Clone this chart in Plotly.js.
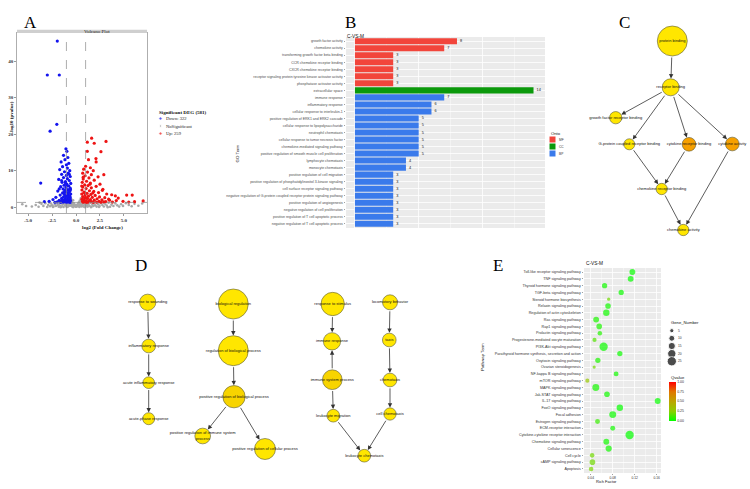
<!DOCTYPE html>
<html><head><meta charset="utf-8">
<script src="https://cdn.plot.ly/plotly-3.0.1.min.js"></script>
<style>html,body{margin:0;padding:0;background:#fff}</style>
</head><body><div id="chart" style="width:750px;height:489px"></div>
<script>
// ---------------- Panel A: volcano data (log2FC, -log10 p) ----------------
const downPts=[[-1.95,45.5],[-2.99,36.2],[-1.74,36.2],[-2.0,22.7],[-2.7,20.8],[-3.68,6.6],
[-1.05,16.0],[-0.95,15.3],[-1.3,14.2],[-0.85,13.6],[-1.15,13.0],[-1.55,12.4],[-0.75,12.0],[-1.0,11.6],[-1.4,11.1],[-0.9,10.7],[-1.7,10.3],[-0.65,10.0],[-1.2,9.7],[-0.8,9.3],[-1.5,9.0],[-1.0,8.7],[-0.6,8.4],[-1.3,8.1],[-0.9,7.8],[-1.8,7.6],[-0.7,7.3],[-1.1,7.0],[-1.45,6.8],[-0.55,6.5],[-0.95,6.3],[-1.25,6.0],[-0.75,5.8],[-1.6,5.6],[-1.05,5.4],[-0.6,5.2],[-1.35,5.0],[-0.85,4.8],[-1.15,4.6],[-1.9,4.4],[-0.65,4.3],[-1.0,4.1],[-1.4,3.9],[-0.8,3.7],[-0.55,3.6],[-1.2,3.5],[-1.65,3.3],[-0.9,3.2],[-0.7,3.0],[-1.05,2.9],[-1.3,2.8],[-2.1,2.7],[-0.6,2.6],[-0.85,2.5],[-1.5,2.4],[-1.1,2.3],[-0.75,2.2],[-2.4,2.1],[-1.25,2.0],[-0.95,1.95],[-0.58,1.9],[-1.75,1.85],[-0.7,1.8],[-1.4,1.75],[-1.05,1.7],[-0.82,1.65],[-2.8,1.6],[-1.55,1.6],[-0.62,1.55],[-1.2,1.5],[-0.9,1.45],[-3.3,1.5],[-1.95,1.45],[-0.72,1.4],[-1.35,1.4],[-1.0,1.35],[-2.2,1.35],[-0.6,1.33],[-1.6,1.33],[-0.8,4.0],[-1.1,6.6],[-0.7,9.0],[-1.5,7.3],[-0.65,3.0],[-1.2,4.2],[-0.95,5.9],[-1.75,5.0],[-0.58,4.8],[-1.05,3.3],[-1.45,2.0]];
const upPts=[[1.63,18.9],[1.18,17.8],[3.13,18.0],[1.18,15.3],[2.08,13.3],[2.1,12.4],[1.0,11.2],[1.5,10.8],[0.8,10.4],[1.8,10.0],[1.2,9.6],[0.7,9.3],[1.6,8.9],[0.95,8.6],[2.3,8.3],[1.35,8.0],[0.75,7.7],[1.9,7.4],[1.1,7.1],[0.65,6.8],[1.5,6.6],[2.5,6.3],[0.9,6.1],[1.25,5.9],[2.1,5.7],[0.7,5.5],[1.6,5.3],[1.05,5.1],[2.8,4.9],[0.62,4.7],[1.4,4.5],[1.85,4.3],[0.85,4.1],[2.35,4.0],[1.15,3.8],[0.6,3.6],[1.55,3.5],[3.2,3.6],[0.95,3.3],[2.0,3.2],[3.72,3.4],[4.1,3.1],[5.28,3.3],[5.86,3.3],[1.3,3.0],[0.7,2.9],[2.45,2.8],[1.7,2.7],[3.0,2.6],[0.9,2.5],[1.2,2.4],[4.4,2.5],[2.2,2.3],[0.62,2.2],[1.5,2.1],[2.7,2.0],[0.8,2.0],[3.5,1.9],[1.9,1.9],[1.05,1.8],[4.2,1.8],[1.35,1.7],[0.68,1.65],[2.4,1.6],[7.0,1.7],[4.9,1.6],[3.1,1.55],[1.6,1.5],[0.95,1.45],[2.9,1.45],[1.25,1.4],[2.15,1.4],[3.8,1.4],[0.75,1.35],[5.5,1.4],[2.6,1.35],[1.8,1.33],[1.1,1.33],[6.1,1.5],[3.4,2.2],[0.85,4.0],[1.45,6.3],[0.75,8.2],[1.3,13.0],[2.6,15.2],[1.9,17.5],[2.9,8.9],[2.75,4.6],[1.0,2.7],[0.6,5.8],[1.75,3.9]];
const nsPts=[[-5.6,0.8],[-5.2,0.3],[-4.6,0.2],[-4.2,0.6],[-3.9,0.1],[-3.8,1.25],[-3.6,0.9],[-3.4,0.35],[-3.2,1.1],[-3.0,0.05],[-2.9,0.6],[-2.8,1.25],[-2.7,0.25],[-2.6,1.0],[-2.5,0.5],[-2.35,0.15],[-2.2,0.8],[-2.1,0.35],[-2.0,1.2],[-1.9,0.6],[-1.8,0.1],[-1.75,0.9],[-1.65,0.4],[-1.55,1.15],[-1.5,0.2],[-1.4,0.7],[-1.3,0.05],[-1.25,1.0],[-1.2,1.28],[-1.15,0.45],[-1.05,0.85],[-1.0,0.15],[-0.95,1.2],[-0.88,0.55],[-0.8,0.25],[-0.75,1.0],[-0.7,0.7],[-0.65,1.27],[-0.62,0.4],[-0.55,1.1],[-0.5,2.2],[-0.48,0.6],[-0.45,1.6],[-0.4,0.2],[-0.38,1.2],[-0.33,0.8],[-0.3,1.9],[-0.25,0.5],[-0.2,1.0],[-0.15,0.3],[-0.1,0.6],[-0.05,0.1],[0.0,0.3],[0.05,0.15],[0.1,0.55],[0.15,0.25],[0.2,0.9],[0.25,0.45],[0.3,1.3],[0.35,0.7],[0.4,1.8],[0.43,0.3],[0.47,1.1],[0.5,2.4],[0.53,0.6],[0.56,1.5],[0.6,0.2],[0.65,0.9],[0.72,0.45],[0.8,1.15],[0.85,0.1],[0.9,1.27],[0.92,0.7],[1.0,0.3],[1.08,1.0],[1.15,0.55],[1.22,0.15],[1.3,0.85],[1.4,0.4],[1.5,1.2],[1.6,0.05],[1.7,0.65],[1.75,1.25],[1.8,0.3],[1.9,1.0],[2.0,0.5],[2.15,0.15],[2.2,1.25],[2.3,0.8],[2.45,0.35],[2.6,1.1],[2.75,0.6],[2.85,1.28],[2.9,0.2],[3.05,0.9],[3.2,0.45],[3.4,1.2],[3.55,0.1],[3.7,0.7],[3.9,0.3],[4.1,1.0],[4.3,0.5],[4.5,0.15],[4.7,0.8],[4.9,0.35],[5.2,1.1],[5.5,0.6],[5.8,0.25],[6.1,0.9],[6.5,0.4],[6.9,1.0],[-1.6,0.0],[-0.9,0.05],[-0.3,0.02],[0.35,0.05],[0.95,0.0],[1.55,0.02],[2.4,0.03],[3.3,0.0],[-2.4,0.03]];
const volcanoLegendTitle="Significant DEG (581)";
const volcanoLegendLabels=["Down: 322","NoSignificant","Up: 259"];

// ---------------- Panel B: GO enrichment ----------------
const goTerms=["growth factor activity","chemokine activity","transforming growth factor beta binding","CCR chemokine receptor binding","CXCR chemokine receptor binding","receptor signaling protein tyrosine kinase activator activity","phosphatase activator activity","extracellular space","immune response","inflammatory response","cellular response to interleukin-1","positive regulation of ERK1 and ERK2 cascade","cellular response to lipopolysaccharide","neutrophil chemotaxis","cellular response to tumor necrosis factor","chemokine-mediated signaling pathway","positive regulation of smooth muscle cell proliferation","lymphocyte chemotaxis","monocyte chemotaxis","positive regulation of cell migration","positive regulation of phosphatidylinositol 3-kinase signaling","cell surface receptor signaling pathway","negative regulation of G-protein coupled receptor protein signaling pathway","positive regulation of angiogenesis","negative regulation of cell proliferation","positive regulation of T cell apoptotic process","negative regulation of T cell apoptotic process"];
const goCounts=[8,7,3,3,3,3,3,14,7,6,6,5,5,5,5,5,5,4,4,3,3,3,3,3,3,3,3];
const goOnto=["MF","MF","MF","MF","MF","MF","MF","CC","BP","BP","BP","BP","BP","BP","BP","BP","BP","BP","BP","BP","BP","BP","BP","BP","BP","BP","BP"];
const ontoNames=["MF","CC","BP"];

// ---------------- Panel C: MF GO graph ----------------
const cNames=["protein binding","receptor binding","growth factor receptor binding","G-protein coupled receptor binding","cytokine receptor binding","cytokine activity","chemokine receptor binding","chemokine activity"];
const cEdges=[[0,1],[1,2],[1,3],[1,4],[1,5],[3,6],[4,6],[6,7],[5,7]];
const cLevel=[0,0,0,0,2,2,0,0];

// ---------------- Panel D: BP GO graphs ----------------
const dNames=["response to wounding","inflammatory response","acute inflammatory response","acute-phase response",
"biological regulation","regulation of biological process","positive regulation of biological process","positive regulation of immune system<br>process","positive regulation of cellular process",
"response to stimulus","immune response","immune system process","leukocyte migration","leukocyte chemotaxis",
"locomotory behavior","taxis","chemotaxis","cell chemotaxis"];
const dEdges=[[0,1],[1,2],[2,3],[4,5],[5,6],[6,7],[6,8],[9,10],[11,10],[11,12],[12,13],[14,15],[15,16],[16,17],[17,13]];
const dLevel=[0,0,0,0,0,0,1,0,0,0,0,1,0,0,0,0,0,0];

// ---------------- Panel E: KEGG enrichment ----------------
const keggTerms=["Toll-like receptor signaling pathway","TNF signaling pathway","Thyroid hormone signaling pathway","TGF-beta signaling pathway","Steroid hormone biosynthesis","Relaxin signaling pathway","Regulation of actin cytoskeleton","Ras signaling pathway","Rap1 signaling pathway","Prolactin signaling pathway","Progesterone-mediated oocyte maturation","PI3K-Akt signaling pathway","Parathyroid hormone synthesis, secretion and action","Oxytocin signaling pathway","Ovarian steroidogenesis","NF-kappa B signaling pathway","mTOR signaling pathway","MAPK signaling pathway","Jak-STAT signaling pathway","IL-17 signaling pathway","FoxO signaling pathway","Focal adhesion","Estrogen signaling pathway","ECM-receptor interaction","Cytokine-cytokine receptor interaction","Chemokine signaling pathway","Cellular senescence","Cell cycle","cAMP signaling pathway","Apoptosis"];
const richFactor=[0.1157,0.1126,0.0652,0.0954,0.0726,0.0714,0.0683,0.0498,0.0554,0.0566,0.0468,0.0634,0.0929,0.0529,0.0462,0.0861,0.0338,0.0492,0.0695,0.1618,0.0929,0.0800,0.0523,0.0800,0.1107,0.0683,0.0726,0.0425,0.0430,0.0406];
const geneNumber=[10,10,8,8,3,9,12,10,9,6,5,20,8,8,3,7,5,14,9,10,12,14,7,7,20,10,11,6,9,6];
const qValue=[0.01,0.01,0.03,0.02,0.20,0.03,0.03,0.05,0.05,0.06,0.15,0.02,0.02,0.05,0.20,0.03,0.30,0.04,0.03,0.01,0.01,0.02,0.10,0.03,0.005,0.03,0.03,0.20,0.20,0.22];
const geneLegend=[5,10,15,20,25];
const qTicks=[0,0.25,0.5,0.75,1];

// ================= layout helpers (pixel placement) =================
const W=750,H=489;
const PX=v=>v/W, PY=v=>1-v/H;
const SANS="Liberation Sans, Arial, sans-serif";
const SERIF="Liberation Serif, Times New Roman, serif";

// network node placement (pixel page coords) and diameters
const cLayout={x:[672.3,670.7,615.7,629.3,689,732.3,661.7,683.3], y:[41,87.3,117.7,144.3,144.3,144,189,230], d:[30,17,12.3,11,13.7,13.7,11.3,11.3]};
const dLayout={x:[147.7,148.7,148.7,148.7,233.3,233.3,234,202.7,265,332.7,332,332.3,333.3,364.3,390,389.3,390,390],
 y:[302.3,346,382.7,418.7,304,350.7,396.7,436,449,304,341.3,379.7,415.7,455.7,302.3,340,380,414],
 d:[16.3,13.7,11.7,12,30,30,22.3,15.7,21,23.3,17.3,19.7,12.7,12.7,15,13.7,13.7,12.3]};
const levelColor=["#FFE600","#F7D400","#F6A000"];

const ontoColor={MF:"#F2453B",CC:"#0B990B",BP:"#3A7AEB"};
const traces=[];
const annotations=[];
const shapes=[];

// ---- A ----
traces.push({type:"scatter",mode:"markers",xaxis:"x",yaxis:"y",x:nsPts.map(p=>p[0]),y:nsPts.map(p=>p[1]),marker:{size:2.6,color:"#A8A8A8"},hoverinfo:"skip"});
traces.push({type:"scatter",mode:"markers",xaxis:"x",yaxis:"y",x:downPts.map(p=>p[0]),y:downPts.map(p=>p[1]),marker:{size:3.2,color:"#1414EE"},hoverinfo:"skip"});
traces.push({type:"scatter",mode:"markers",xaxis:"x",yaxis:"y",x:upPts.map(p=>p[0]),y:upPts.map(p=>p[1]),marker:{size:3.2,color:"#EE1414"},hoverinfo:"skip"});
[-1,1].forEach(v=>shapes.push({type:"line",xref:"x",yref:"y domain",x0:v,x1:v,y0:0,y1:1,line:{color:"#8a8a8a",width:0.7,dash:"dash"}}));
shapes.push({type:"line",xref:"x domain",yref:"y",x0:0,x1:1,y0:1.3,y1:1.3,line:{color:"#8a8a8a",width:0.7,dash:"dash"}});
shapes.push({type:"rect",xref:"paper",yref:"paper",x0:PX(17),x1:PX(147),y0:PY(33),y1:PY(29.8),fillcolor:"#CFCFCF",line:{width:0}});
annotations.push({xref:"paper",yref:"paper",x:PX(82),y:PY(27),text:"Volcano Plot",showarrow:false,font:{family:SERIF,size:5,color:"#222"}});
annotations.push({xref:"paper",yref:"paper",x:PX(6),y:PY(100),text:"-log10 (pvalue)",textangle:-90,showarrow:false,font:{family:SERIF,size:5,weight:"bold",color:"#111"}});
annotations.push({xref:"paper",yref:"paper",x:PX(80),y:PY(227),text:"log2 (Fold Change)",showarrow:false,font:{family:SERIF,size:5,weight:"bold",color:"#111"}});
// legend A
annotations.push({xref:"x3",yref:"y3",x:157,y:112.3,xanchor:"left",text:volcanoLegendTitle,showarrow:false,font:{family:SERIF,size:5,weight:"bold",color:"#111"}});
const legAy=[118.5,126,133.5], legAcol=["#1414EE","#A8A8A8","#EE1414"];
traces.push({type:"scatter",mode:"markers",xaxis:"x3",yaxis:"y3",x:[160.5,160.5,160.5],y:legAy,marker:{size:[3.2,2.6,3.2],color:legAcol},hoverinfo:"skip"});
volcanoLegendLabels.forEach((t,i)=>annotations.push({xref:"x3",yref:"y3",x:164,y:legAy[i],xanchor:"left",text:t,showarrow:false,font:{family:SERIF,size:4.6,color:"#222"}}));

// ---- B ----
traces.push({type:"bar",orientation:"h",xaxis:"x2",yaxis:"y2",y:goTerms,x:goCounts,width:0.86,
 marker:{color:goOnto.map(o=>ontoColor[o]),line:{width:0}},text:goCounts.map(String),textposition:"outside",
 textfont:{family:SANS,size:3.8,color:"#111"},cliponaxis:false,constraintext:"none",hoverinfo:"skip"});
shapes.push({type:"rect",xref:"x2 domain",yref:"y2 domain",x0:0,x1:1,y0:0,y1:1,fillcolor:"#EBEBEB",line:{width:0},layer:"below"});
annotations.push({xref:"paper",yref:"paper",x:PX(345),y:PY(32),xanchor:"left",text:"C-VS-M",showarrow:false,font:{family:SANS,size:4.8,color:"#111"}});
annotations.push({xref:"paper",yref:"paper",x:PX(233),y:PY(142),text:"GO Term",textangle:-90,showarrow:false,font:{family:SANS,size:4.4,color:"#111"}});
annotations.push({xref:"x3",yref:"y3",x:549,y:133.5,xanchor:"left",text:"Onto",showarrow:false,font:{family:SANS,size:4.2,color:"#111"}});
ontoNames.forEach((o,i)=>{
  const y0=136.5+i*7;
  shapes.push({type:"rect",xref:"paper",yref:"paper",x0:PX(549.5),x1:PX(555.5),y0:PY(y0),y1:PY(y0+6),fillcolor:ontoColor[o],line:{width:0}});
  annotations.push({xref:"x3",yref:"y3",x:557,y:y0+3,xanchor:"left",text:o,showarrow:false,font:{family:SANS,size:3.2,color:"#333"}});
});

// ---- networks C & D ----
function addNetwork(names,lay,edges,lvl){
  traces.push({type:"scatter",mode:"markers+text",xaxis:"x3",yaxis:"y3",x:lay.x,y:lay.y,text:names,textposition:"middle center",
   textfont:{family:SANS,size:4,color:"#111"},cliponaxis:false,
   marker:{size:lay.d,color:lvl.map(s=>levelColor[s]),line:{color:"#5a5a3a",width:0.6},opacity:1},hoverinfo:"skip"});
  edges.forEach(e=>{
    const s=e[0],t=e[1];
    annotations.push({xref:"x3",yref:"y3",axref:"x3",ayref:"y3",x:lay.x[t],y:lay.y[t],ax:lay.x[s],ay:lay.y[s],text:"",showarrow:true,
      arrowhead:2,arrowsize:1.1,arrowwidth:0.8,arrowcolor:"#333",standoff:lay.d[t]/2+0.3,startstandoff:lay.d[s]/2});
  });
}
addNetwork(cNames,cLayout,cEdges,cLevel);
addNetwork(dNames,dLayout,dEdges,dLevel);

// ---- E ----
const SREF=25/Math.pow(6.6,2);
traces.push({type:"scatter",mode:"markers",xaxis:"x4",yaxis:"y4",x:richFactor,y:keggTerms,cliponaxis:false,
 marker:{size:geneNumber,sizemode:"area",sizeref:SREF,color:qValue,cmin:0,cmax:1,
  colorscale:[[0,"#00FF00"],[0.25,"#8CCF00"],[0.5,"#BDA500"],[0.75,"#E07600"],[1,"#FF0000"]],line:{width:0},
  showscale:true,colorbar:{x:PX(668.7),xanchor:"left",y:PY(381.7),yanchor:"top",lenmode:"pixels",len:39,thickness:7,
   xpad:0,ypad:0,outlinewidth:0,tickvals:qTicks,ticktext:qTicks.map(v=>v.toFixed(2)),ticks:"",tickfont:{family:SANS,size:3.5,color:"#333"}}},
 hoverinfo:"skip"});
shapes.push({type:"rect",xref:"x4 domain",yref:"y4 domain",x0:0,x1:1,y0:0,y1:1,fillcolor:"#EBEBEB",line:{width:0},layer:"below"});
annotations.push({xref:"paper",yref:"paper",x:PX(584),y:PY(263.3),xanchor:"left",text:"C-VS-M",showarrow:false,font:{family:SANS,size:4.8,color:"#111"}});
annotations.push({xref:"paper",yref:"paper",x:PX(482),y:PY(373),text:"Pathway Term",textangle:-90,showarrow:false,font:{family:SANS,size:4.4,color:"#111"}});
annotations.push({xref:"paper",yref:"paper",x:PX(619),y:PY(486),text:"Rich Factor",showarrow:false,font:{family:SANS,size:4,color:"#111"}});
annotations.push({xref:"x3",yref:"y3",x:668.5,y:322.7,xanchor:"left",text:"Gene_Number",showarrow:false,font:{family:SANS,size:4.2,color:"#111"}});
const gLegY=[330.7,338.3,346,353.7,361.3];
traces.push({type:"scatter",mode:"markers",xaxis:"x3",yaxis:"y3",x:gLegY.map(()=>671.8),y:gLegY,marker:{size:geneLegend,sizemode:"area",sizeref:SREF,color:"#000"},hoverinfo:"skip"});
geneLegend.forEach((g,i)=>annotations.push({xref:"x3",yref:"y3",x:676,y:gLegY[i],xanchor:"left",text:String(g),showarrow:false,font:{family:SANS,size:3.3,color:"#333"}}));
annotations.push({xref:"x3",yref:"y3",x:668.5,y:377.7,xanchor:"left",text:"Qvalue",showarrow:false,font:{family:SANS,size:4.2,color:"#111"}});

// panel letters
[["A",22,11],["B",350,11],["C",632,11],["D",133,265],["E",498.5,265]].forEach(l=>annotations.push({xref:"paper",yref:"paper",x:PX(l[1]),y:PY(l[2]),text:l[0],showarrow:false,font:{family:SERIF,size:17,color:"#000"}}));

const serifTick={family:SERIF,size:5,weight:"bold",color:"#333"};
const layout={
 width:W,height:H,margin:{l:0,r:0,t:0,b:0},paper_bgcolor:"#fff",plot_bgcolor:"rgba(0,0,0,0)",showlegend:false,
 xaxis:{domain:[PX(17),PX(147)],anchor:"y",range:[-6.15,7.4],autorange:false,tickvals:[-5,-2.5,0,2.5,5,7.5],ticktext:["-5.0","-2.5","0.0","2.5","5.0","7.5"],
   tickfont:serifTick,ticks:"outside",ticklen:2,tickwidth:0.6,tickcolor:"#555",showline:true,mirror:true,linecolor:"#9a9a9a",linewidth:0.8,showgrid:false,zeroline:false,fixedrange:true},
 yaxis:{domain:[PY(213),PY(33)],anchor:"x",range:[-1.6,47.7],autorange:false,tickvals:[0,10,20,30,40],
   tickfont:serifTick,ticks:"outside",ticklen:2,tickwidth:0.6,tickcolor:"#555",showline:true,mirror:true,linecolor:"#9a9a9a",linewidth:0.8,showgrid:false,zeroline:false,fixedrange:true},
 xaxis2:{domain:[PX(346),PX(545)],anchor:"y2",range:[-0.7,14.9],autorange:false,showticklabels:false,ticks:"",showgrid:true,gridcolor:"#fff",gridwidth:0.8,
   tickvals:[0,5,10],minor:{tickvals:[2.5,7.5,12.5],showgrid:true,gridcolor:"#fff",gridwidth:0.4},zeroline:false,showline:false,fixedrange:true},
 yaxis2:{domain:[PY(228),PY(37)],anchor:"x2",type:"category",categoryorder:"array",categoryarray:goTerms,tickmode:"array",tickvals:goTerms,ticktext:goTerms,
   range:[26.6,-0.6],autorange:false,tickfont:{family:SANS,size:3.5,color:"#4d4d4d"},ticks:"outside",ticklen:1.5,tickwidth:0.5,tickcolor:"#444",
   showgrid:true,gridcolor:"#fff",gridwidth:0.8,zeroline:false,showline:false,fixedrange:true},
 xaxis3:{domain:[0,1],anchor:"y3",range:[0,W],autorange:false,visible:false,fixedrange:true},
 yaxis3:{domain:[0,1],anchor:"x3",range:[H,0],autorange:false,visible:false,fixedrange:true},
 xaxis4:{domain:[PX(584),PX(661)],anchor:"y4",range:[0.0277,0.1678],autorange:false,tickvals:[0.04,0.08,0.12,0.16],ticktext:["0.04","0.08","0.12","0.16"],
   tickfont:{family:SANS,size:3.3,color:"#333"},ticks:"outside",ticklen:1.2,tickwidth:0.5,tickcolor:"#444",showgrid:true,gridcolor:"#fff",gridwidth:0.8,
   minor:{tickvals:[0.06,0.10,0.14],showgrid:true,gridcolor:"#fff",gridwidth:0.4},zeroline:false,showline:false,fixedrange:true},
 yaxis4:{domain:[PY(473),PY(268)],anchor:"x4",type:"category",categoryorder:"array",categoryarray:keggTerms,tickmode:"array",tickvals:keggTerms,ticktext:keggTerms,
   range:[29.6,-0.6],autorange:false,tickfont:{family:SANS,size:3.7,color:"#333"},ticks:"outside",ticklen:1.5,tickwidth:0.5,tickcolor:"#444",
   showgrid:true,gridcolor:"#fff",gridwidth:0.8,zeroline:false,showline:false,fixedrange:true},
 shapes:shapes,annotations:annotations
};
Plotly.newPlot("chart",traces,layout,{displayModeBar:false,staticPlot:true});
</script></body></html>
